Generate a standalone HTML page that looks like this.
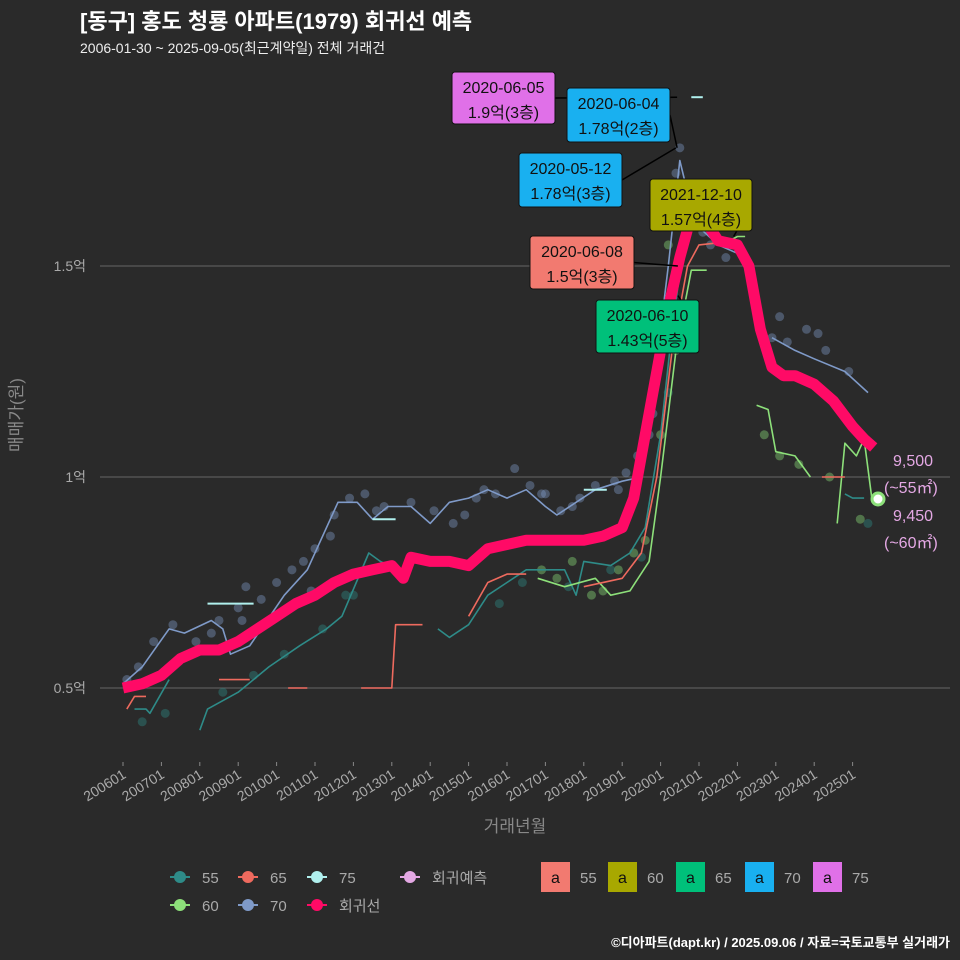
<!DOCTYPE html>
<html><head><meta charset="utf-8">
<style>
body{margin:0;background:#2a2a2a;}
svg{display:block;font-family:"Liberation Sans","Noto Sans CJK KR",sans-serif;}
</style></head>
<body>
<svg id="chart" width="960" height="960" viewBox="0 0 960 960">
<rect width="960" height="960" fill="#2a2a2a"/>
<text x="80" y="29" fill="#fff" font-size="22" font-weight="bold">[동구] 홍도 청룡 아파트(1979) 회귀선 예측</text>
<text x="80" y="53" fill="#eee" font-size="14">2006-01-30 ~ 2025-09-05(최근계약일) 전체 거래건</text>
<g id="grid"></g>
<g id="points"></g>
<g id="lines"></g>
<g id="annos"></g>
<g id="axes"></g>
<text transform="translate(22,415) rotate(-90)" text-anchor="middle" fill="#888" font-size="17">매매가(원)</text>
<text x="515" y="832" text-anchor="middle" fill="#888" font-size="17">거래년월</text>
<g id="legend" font-size="15" fill="#aaa"></g>
<text x="950" y="947" text-anchor="end" fill="#fff" font-size="13" font-weight="bold">©디아파트(dapt.kr) / 2025.09.06 / 자료=국토교통부 실거래가</text>
</svg>
<script>
const NS="http://www.w3.org/2000/svg";
const yTicks=[0.5,1,1.5];
const yTickLabels=["0.5억","1억","1.5억"];
const xTickYears=[2006,2007,2008,2009,2010,2011,2012,2013,2014,2015,2016,2017,2018,2019,2020,2021,2022,2023,2024,2025];
const xTickLabels=["200601","200701","200801","200901","201001","201101","201201","201301","201401","201501","201601","201701","201801","201901","202001","202101","202201","202301","202401","202501"];
const regT=[2006.0,2006.5,2007.0,2007.5,2008.0,2008.5,2009.0,2009.5,2010.0,2010.5,2011.0,2011.5,2012.0,2012.5,2013.0,2013.2,2013.3,2013.5,2014.0,2014.5,2015.0,2015.5,2016.0,2016.5,2017.0,2017.5,2018.0,2018.5,2019.0,2019.3,2019.6,2019.9,2020.2,2020.5,2020.8,2021.0,2021.5,2022.0,2022.3,2022.6,2022.9,2023.2,2023.5,2024.0,2024.5,2025.0,2025.3,2025.55];
const regV=[0.50,0.51,0.53,0.57,0.59,0.59,0.61,0.64,0.67,0.70,0.72,0.75,0.77,0.78,0.79,0.77,0.76,0.81,0.80,0.80,0.79,0.83,0.84,0.85,0.85,0.85,0.85,0.86,0.88,0.95,1.10,1.25,1.40,1.52,1.62,1.63,1.56,1.55,1.50,1.35,1.26,1.24,1.24,1.22,1.18,1.12,1.09,1.07];
const s55T=[[2006.3,2006.6,2006.7,2007.2],[2008.0,2008.2,2009.0,2009.8,2010.6,2011.3,2011.7,2012.4,2012.7,2013.2],[2014.2,2014.5,2015.0,2015.5,2016.0,2016.5,2017.5,2017.8,2018.0,2018.7,2019.2,2019.6,2020.0,2020.3,2020.6],[2024.8,2025.0,2025.3]];
const s55V=[[0.45,0.45,0.44,0.52],[0.40,0.45,0.49,0.55,0.60,0.64,0.67,0.82,0.80,0.78],[0.64,0.62,0.65,0.72,0.75,0.78,0.78,0.72,0.80,0.79,0.82,0.88,1.10,1.35,1.55],[0.96,0.95,0.95]];
const s60T=[[2016.8,2017.5,2018.3,2018.7,2019.2,2019.7,2020.0,2020.4,2020.8,2021.2],[2021.6,2022.0,2022.2],[2022.5,2022.8,2023.0,2023.5,2023.9],[2024.6,2024.8,2025.1,2025.3,2025.5]];
const s60V=[[0.76,0.74,0.76,0.72,0.73,0.80,1.00,1.30,1.49,1.49],[1.55,1.57,1.57],[1.17,1.16,1.06,1.05,1.00],[0.89,1.08,1.05,1.09,0.95]];
const s65T=[[2006.1,2006.3,2006.6],[2008.5,2009.3],[2010.3,2010.8],[2012.2,2013.0,2013.1,2013.8],[2015.0,2015.5,2016.0,2016.5],[2018.0,2019.0,2019.5,2019.9,2020.3,2020.7,2021.0,2022.0],[2023.2,2023.6],[2024.2,2024.8]];
const s65V=[[0.45,0.48,0.48],[0.52,0.52],[0.50,0.50],[0.50,0.50,0.65,0.65],[0.67,0.75,0.77,0.77],[0.74,0.76,0.82,1.00,1.30,1.50,1.55,1.56],[1.23,1.23],[1.00,1.00]];
const s70T=[[2006.0,2006.5,2007.2,2007.6,2008.3,2008.6,2008.8,2009.3,2010.2,2010.8,2011.6,2012.1,2012.5,2012.9,2013.5,2014.0,2014.5,2015.0,2015.5,2016.0,2016.5,2017.0,2017.3,2017.8,2018.3,2019.0,2019.5,2019.8,2020.2,2020.5,2020.9,2021.5,2022.0],[2022.9,2023.5,2024.0,2024.8,2025.4]];
const s70V=[[0.51,0.55,0.64,0.63,0.66,0.64,0.58,0.60,0.72,0.78,0.94,0.94,0.90,0.93,0.93,0.89,0.94,0.95,0.97,0.95,0.97,0.93,0.91,0.94,0.97,0.99,1.00,1.20,1.50,1.75,1.60,1.55,1.53],[1.33,1.30,1.28,1.25,1.20]];
const s75T=[[2008.2,2009.4],[2012.5,2013.1],[2018.0,2018.6],[2020.8,2021.1]];
const s75V=[[0.70,0.70],[0.90,0.90],[0.97,0.97],[1.90,1.90]];
const ptT=[2006.1,2006.4,2006.8,2007.3,2007.9,2008.3,2008.5,2009.0,2009.2,2009.6,2010.0,2010.4,2010.7,2011.0,2011.5,2011.9,2012.3,2012.8,2013.5,2014.1,2014.6,2015.2,2015.7,2016.2,2016.6,2017.0,2017.4,2017.9,2018.3,2018.8,2019.1,2019.4,2019.7,2019.9,2020.1,2020.3,2020.5,2021.3,2021.7,2022.9,2023.3,2023.8,2024.3,2024.9,2016.9,2017.3,2017.7,2018.2,2018.5,2018.9,2019.3,2019.6,2020.0,2020.4,2022.7,2023.1,2023.6,2024.4,2025.2,2006.5,2007.1,2008.6,2009.4,2010.2,2011.2,2011.8,2012.0,2015.8,2016.4,2017.6,2018.7,2019.5,2020.2,2025.4,2009.1,2010.9,2011.4,2012.6,2014.9,2015.4,2016.9,2017.7,2018.9,2019.8,2020.2,2020.4,2021.1,2023.1,2024.1];
const ptV=[0.52,0.55,0.61,0.65,0.61,0.63,0.66,0.69,0.74,0.71,0.75,0.78,0.80,0.83,0.91,0.95,0.96,0.93,0.94,0.92,0.89,0.95,0.96,1.02,0.98,0.96,0.92,0.95,0.98,0.99,1.01,1.05,1.10,1.25,1.40,1.60,1.78,1.55,1.52,1.33,1.32,1.35,1.30,1.25,0.78,0.76,0.80,0.72,0.73,0.78,0.82,0.85,1.10,1.30,1.10,1.05,1.03,1.00,0.90,0.42,0.44,0.49,0.53,0.58,0.64,0.72,0.72,0.70,0.75,0.74,0.78,0.81,1.20,0.89,0.66,0.73,0.86,0.92,0.91,0.97,0.96,0.93,0.97,1.15,1.55,1.72,1.58,1.38,1.34];
const ptS=["70","70","70","70","70","70","70","70","70","70","70","70","70","70","70","70","70","70","70","70","70","70","70","70","70","70","70","70","70","70","70","70","70","70","70","70","70","70","70","70","70","70","70","70","60","60","60","60","60","60","60","60","60","60","60","60","60","60","60","55","55","55","55","55","55","55","55","55","55","55","55","55","55","55","70","70","70","70","70","70","70","70","70","70","60","70","70","70","70"];
const colors={"55":"#2e8b88","60":"#8de07a","65":"#ee6a5e","70":"#7f9ac8","75":"#b0f0ee"};
const X=t=>123+(t-2006)*38.4;
const Y=v=>688-(v-0.5)*422;
function el(tag,attrs,parent){const e=document.createElementNS(NS,tag);for(const k in attrs)e.setAttribute(k,attrs[k]);parent.appendChild(e);return e;}
const grid=document.getElementById('grid');
yTicks.forEach((v,i)=>{
  const l=el('line',{x1:100,x2:950,y1:Y(v),y2:Y(v),stroke:'#5a5a5a','stroke-width':1.2},grid);
  
  
  const t=el('text',{x:86,y:Y(v)+5,'text-anchor':'end',fill:'#aaa','font-size':14},grid);
  t.textContent=yTickLabels[i];
  
  
});
const axes=document.getElementById('axes');
xTickYears.forEach((yr,i)=>{
  const x=X(yr);
  const tk=el('line',{x1:x,x2:x,y1:762,y2:766,stroke:'#888'},axes);
  
  
  const t=el('text',{x:0,y:0,'text-anchor':'end',fill:'#aaa','font-size':14,transform:`translate(${x+4},${777}) rotate(-32)`},axes);
  t.textContent=xTickLabels[i];
  
  
});
const pts=document.getElementById('points');
ptT.forEach((t,i)=>{
  const c=el('circle',{cx:X(t),cy:Y(ptV[i]),r:4.5,fill:colors[ptS[i]],opacity:0.4},pts);
  
  
});
const lines=document.getElementById('lines');
function seg(T,V,col,w,name){
  T.forEach((ts,j)=>{
    const d=ts.map((t,k)=>(k?'L':'M')+X(t).toFixed(1)+','+Y(V[j][k]).toFixed(1)).join('');
    const p=el('path',{d:d,fill:'none',stroke:col,'stroke-width':w,'stroke-linejoin':'round'},lines);
    
    
  });
}
seg(s55T,s55V,colors["55"],1.6,'line-55');
seg(s60T,s60V,colors["60"],1.6,'line-60');
seg(s65T,s65V,colors["65"],1.6,'line-65');
seg(s70T,s70V,colors["70"],1.6,'line-70');
seg(s75T,s75V,colors["75"],2,'line-75');
seg([regT],[regV],'#ff0a66',11,'regression-line');
const ann=document.getElementById('annos');
const boxes=[[452,72,103,52,'#e070e8','2020-06-05','1.9억(3층)',2020.43,1.9],[567,88,103,54,'#19b0f0','2020-06-04','1.78억(2층)',2020.43,1.78],[519,153,103,54,'#19b0f0','2020-05-12','1.78억(3층)',2020.4,1.78],[650,179,102,52,'#a8a800','2021-12-10','1.57억(4층)',2021.9,1.57],[530,236,104,53,'#f27a70','2020-06-08','1.5억(3층)',2020.45,1.5],[596,300,103,53,'#00c07a','2020-06-10','1.43억(5층)',2020.45,1.43]];
boxes.forEach(b=>{
  const ln=el('line',{x1:b[0]+b[2],y1:b[1]+b[3]/2,x2:X(b[7]),y2:Y(b[8]),stroke:'#000','stroke-width':1.5},ann);
  
  
  const r=el('rect',{x:b[0],y:b[1],width:b[2],height:b[3],rx:3,fill:b[4],stroke:'#111'},ann);
  
  
  const t1=el('text',{x:b[0]+b[2]/2,y:b[1]+21,'text-anchor':'middle','font-size':16,fill:'#111'},ann);
  t1.textContent=b[5];
  
  
  const t2=el('text',{x:b[0]+b[2]/2,y:b[1]+46,'text-anchor':'middle','font-size':16,fill:'#111'},ann);
  t2.textContent=b[6];
  
  
});
const pd=el('circle',{cx:878,cy:499,r:6,fill:'#fff',stroke:'#8de07a','stroke-width':3},ann);


[['9,500',893,466],['(~55㎡)',884,493],['9,450',893,521],['(~60㎡)',884,548]].forEach(a=>{
  const t=el('text',{x:a[1],y:a[2],fill:'#e4a8e4','font-size':16},ann);
  t.textContent=a[0];
  
  
});
const lg=document.getElementById('legend');
[['55',180,877,colors["55"]],['65',248,877,colors["65"]],['75',317,877,colors["75"]],['회귀예측',410,877,'#e4a8e4'],['60',180,905,colors["60"]],['70',248,905,colors["70"]],['회귀선',317,905,'#ff0a66']].forEach(a=>{
  const g=el('g',{},lg);
  
  
  el('line',{x1:a[1]-10,x2:a[1]+10,y1:a[2],y2:a[2],stroke:a[3],'stroke-width':2},g);
  el('circle',{cx:a[1],cy:a[2],r:6,fill:a[3]},g);
  const t=el('text',{x:a[1]+22,y:a[2]+6,fill:'#aaa','font-size':15},g);
  t.textContent=a[0];
});
[['55',541,'#f27a70'],['60',608,'#a8a800'],['65',676,'#00c07a'],['70',745,'#19b0f0'],['75',813,'#e070e8']].forEach(a=>{
  const g=el('g',{},lg);
  
  
  el('rect',{x:a[1],y:862,width:29,height:30,fill:a[2]},g);
  const ta=el('text',{x:a[1]+14.5,y:883,'text-anchor':'middle',fill:'#111','font-size':16},g);
  ta.textContent='a';
  const t=el('text',{x:a[1]+39,y:883,fill:'#aaa','font-size':15},g);
  t.textContent=a[0];
});
</script>
</body></html>
